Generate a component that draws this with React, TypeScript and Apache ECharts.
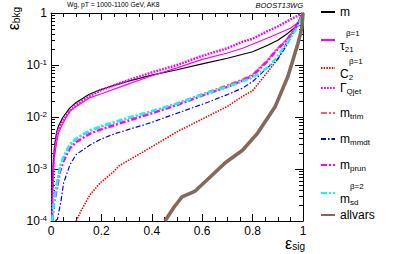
import React, { useEffect, useRef } from "react";
import * as echarts from "echarts";

// ---------- data ----------
const seriesNames = ["m", "tau21", "C2", "Qjet", "mtrim", "mmmdt", "mprun", "msd", "allvars"];

const mX = [0.003, 0.006, 0.009, 0.015, 0.022, 0.03, 0.048, 0.075, 0.1, 0.15, 0.2, 0.3, 0.4, 0.5, 0.6, 0.7, 0.8, 0.86, 0.9, 0.94, 0.97, 0.99, 1.0];
const mY = [1e-4, 5e-4, 1.3e-3, 3e-3, 5e-3, 6.8e-3, 0.010, 0.015, 0.019, 0.027, 0.034, 0.048, 0.064, 0.081, 0.105, 0.135, 0.18, 0.24, 0.30, 0.41, 0.54, 0.75, 1.0];

const tauX = [0.004, 0.008, 0.012, 0.022, 0.03, 0.048, 0.075, 0.1, 0.15, 0.2, 0.3, 0.4, 0.5, 0.6, 0.7, 0.76, 0.86, 0.95, 0.98, 1.0];
const tauY = [1e-4, 6e-4, 1.5e-3, 3.2e-3, 5e-3, 7.7e-3, 0.013, 0.016, 0.023, 0.028, 0.042, 0.062, 0.088, 0.128, 0.17, 0.21, 0.33, 0.51, 0.65, 1.0];

const c2X = [0.1, 0.12, 0.155, 0.195, 0.25, 0.27, 0.3, 0.39, 0.5, 0.62, 0.7, 0.76, 0.8, 0.86, 0.9, 0.94, 0.97, 1.0];
const c2Y = [1e-4, 1.6e-4, 3.2e-4, 5.4e-4, 9e-4, 1.15e-3, 1.4e-3, 2.5e-3, 5.2e-3, 0.0102, 0.016, 0.025, 0.032, 0.074, 0.13, 0.30, 0.55, 1.0];

const qjetX = [0.004, 0.008, 0.012, 0.022, 0.03, 0.05, 0.075, 0.1, 0.15, 0.2, 0.3, 0.4, 0.5, 0.6, 0.7, 0.76, 0.8, 0.86, 0.9, 0.95, 1.0];
const qjetY = [1e-4, 8e-4, 2e-3, 4.2e-3, 5.8e-3, 9e-3, 0.013, 0.017, 0.025, 0.033, 0.05, 0.072, 0.10, 0.15, 0.21, 0.28, 0.32, 0.45, 0.55, 0.75, 1.0];

const groomX = [0.005, 0.012, 0.026, 0.036, 0.049, 0.075, 0.1, 0.155, 0.2, 0.3, 0.4, 0.5, 0.62, 0.7, 0.76, 0.8, 0.86, 0.89, 0.94, 0.98, 1.0];
const trimY = [1e-4, 2.8e-4, 6.5e-4, 1.1e-3, 1.7e-3, 2.9e-3, 3.8e-3, 5.4e-3, 6.5e-3, 9.2e-3, 0.0128, 0.0185, 0.030, 0.041, 0.053, 0.066, 0.125, 0.19, 0.33, 0.62, 1.0];
const prunY = [1e-4, 2.2e-4, 5e-4, 9e-4, 1.4e-3, 2.5e-3, 3.3e-3, 4.8e-3, 5.8e-3, 8.3e-3, 0.0118, 0.017, 0.028, 0.038, 0.05, 0.062, 0.12, 0.18, 0.32, 0.6, 1.0];
const sdY = [1e-4, 2.5e-4, 6e-4, 1.1e-3, 1.7e-3, 3e-3, 3.9e-3, 5.6e-3, 6.7e-3, 9.5e-3, 0.013, 0.018, 0.029, 0.038, 0.048, 0.058, 0.09, 0.13, 0.28, 0.55, 1.0];

const mmdtX = [0.018, 0.026, 0.04, 0.05, 0.075, 0.1, 0.155, 0.2, 0.26, 0.3, 0.39, 0.5, 0.62, 0.7, 0.76, 0.8, 0.86, 0.9, 0.94, 0.97, 1.0];
const mmdtY = [1e-4, 1.1e-4, 2.5e-4, 5.4e-4, 1.2e-3, 1.9e-3, 2.9e-3, 3.8e-3, 4.9e-3, 5.6e-3, 7.6e-3, 0.0118, 0.019, 0.027, 0.036, 0.048, 0.09, 0.13, 0.26, 0.5, 1.0];

const allX = [0.452, 0.49, 0.52, 0.57, 0.62, 0.69, 0.76, 0.82, 0.89, 0.94, 0.98, 0.995, 1.0];
const allY = [1e-4, 1.9e-4, 2.9e-4, 3.7e-4, 6.2e-4, 1.3e-3, 2.3e-3, 4.9e-3, 0.016, 0.06, 0.26, 0.5, 1.0];

const xTicks = [0, 0.2, 0.4, 0.6, 0.8, 1];
const yMinorTicks = [-4, -3, -2, -1].flatMap((e) => [2, 3, 4, 5, 6, 7, 8, 9].map((k) => k * Math.pow(10, e)));

const FONT = "Liberation Sans, Arial, Helvetica, sans-serif";

const zip = (xs: number[], ys: number[]) => xs.map((x, i) => [x, ys[i]]);

const legendFormat: Record<string, string> = {
  m: "{b|m}",
  tau21: "{spT|}{sup|β=1}\n{b|τ}{sub|21}",
  C2: "{spC|}{sup|β=1}\n{b|C}{sub|2}",
  Qjet: "{b|Γ}{sub|Qjet}",
  mtrim: "{b|m}{sub|trim}",
  mmmdt: "{b|m}{sub|mmdt}",
  mprun: "{b|m}{sub|prun}",
  msd: "{spM|}{sup|β=2}\n{b|m}{sub|sd}",
  allvars: "{b|allvars}",
};
const legendTops = [6, 27, 55, 82, 107, 133, 159, 180, 209];

export default function App() {
  const ref = useRef<HTMLDivElement>(null);
  useEffect(() => {
    if (!ref.current) return;
    const chart = echarts.init(ref.current, undefined, { renderer: "svg" });

    const lineSeries = (name: string, data: number[][], color: string, width: number, type: any) => ({
      name,
      type: "line",
      data,
      symbol: "none",
      smooth: false,
      clip: true,
      xAxisIndex: 0,
      yAxisIndex: 0,
      lineStyle: { color, width, type },
      itemStyle: { color },
      emphasis: { disabled: true },
    });

    const series: any[] = [
      lineSeries("m", zip(mX, mY), "#000000", 1.2, "solid"),
      lineSeries("tau21", zip(tauX, tauY), "#ff00ff", 1.2, "solid"),
      lineSeries("C2", zip(c2X, c2Y), "#ff0000", 1.6, [1.5, 1.2]),
      lineSeries("Qjet", zip(qjetX, qjetY), "#ff00ff", 2.4, [1.8, 1.2]),
      lineSeries("mtrim", zip(groomX, trimY), "#ff5c5c", 1.8, [6, 2, 2, 2]),
      lineSeries("mmmdt", zip(mmdtX, mmdtY), "#0000ff", 1.2, [5, 2, 1.5, 2]),
      lineSeries("mprun", zip(groomX, prunY), "#ff00ff", 2.5, [6, 2, 2, 2]),
      lineSeries("msd", zip(groomX, sdY), "#00ffff", 2.5, [6, 2, 2, 2]),
      lineSeries("allvars", zip(allX, allY), "#86685a", 3.6, "solid"),
      {
        name: "yminor",
        type: "custom",
        silent: true,
        xAxisIndex: 0,
        yAxisIndex: 0,
        data: yMinorTicks.map((v) => [0, v]),
        encode: { x: 0, y: 1 },
        renderItem: (_p: any, api: any) => {
          const v = api.value(1);
          const pl = api.coord([0, v]);
          const pr = api.coord([1, v]);
          const y = Math.round(pl[1]) + 0.5;
          return {
            type: "group",
            children: [
              { type: "line", shape: { x1: pl[0], y1: y, x2: pl[0] + 4, y2: y }, style: { stroke: "#000", lineWidth: 1 } },
              { type: "line", shape: { x1: pr[0], y1: y, x2: pr[0] - 4, y2: y }, style: { stroke: "#000", lineWidth: 1 } },
            ],
          };
        },
      },
    ];

    const legendRich = {
      b: { fontFamily: FONT, fontSize: 12, lineHeight: 14, color: "#000" },
      sub: { fontFamily: FONT, fontSize: 8, lineHeight: 8, verticalAlign: "bottom", color: "#000" },
      sup: { fontFamily: FONT, fontSize: 8, lineHeight: 9, color: "#000" },
      spT: { width: 6 },
      spC: { width: 9 },
      spM: { width: 10 },
    };

    const legends = seriesNames.map((name, i) => ({
      show: true,
      data: [name],
      orient: "vertical",
      left: 320,
      top: legendTops[i],
      itemWidth: 14,
      itemHeight: 14,
      itemGap: 0,
      padding: 0,
      selectedMode: false,
      itemStyle: { opacity: 0 },
      formatter: (n: string) => legendFormat[n],
      textStyle: { rich: legendRich, fontFamily: FONT, fontSize: 12, color: "#000" },
    }));

    const supRich = {
      n: { fontFamily: FONT, fontSize: 12, lineHeight: 13, color: "#000" },
      s: { fontFamily: FONT, fontSize: 8, lineHeight: 8, verticalAlign: "top", color: "#000" },
    };

    const option: any = {
      animation: false,
      backgroundColor: "#ffffff",
      grid: { left: 51, right: 96, top: 13, bottom: 33, containLabel: false },
      legend: legends,
      xAxis: [
        {
          type: "value",
          min: 0,
          max: 1,
          interval: 0.2,
          position: "bottom",
          axisLine: { show: true, onZero: false, lineStyle: { color: "#000", width: 1 } },
          axisTick: { show: true, inside: true, length: 7, lineStyle: { color: "#000" } },
          minorTick: { show: true, splitNumber: 4, length: 4, lineStyle: { color: "#000" } },
          splitLine: { show: false },
          axisLabel: {
            show: true,
            margin: 4,
            fontFamily: FONT,
            fontSize: 12,
            color: "#000",
            formatter: (v: number) => (xTicks.includes(Math.round(v * 10) / 10) ? String(Math.round(v * 10) / 10) : ""),
          },
        },
        {
          type: "value",
          min: 0,
          max: 1,
          interval: 0.2,
          position: "top",
          axisLine: { show: true, onZero: false, lineStyle: { color: "#000", width: 1 } },
          axisTick: { show: true, inside: true, length: 7, lineStyle: { color: "#000" } },
          minorTick: { show: true, splitNumber: 4, length: 4, lineStyle: { color: "#000" } },
          splitLine: { show: false },
          axisLabel: { show: false },
        },
      ],
      yAxis: [
        {
          type: "log",
          logBase: 10,
          min: 1e-4,
          max: 1,
          position: "left",
          axisLine: { show: true, onZero: false, lineStyle: { color: "#000", width: 1 } },
          axisTick: { show: true, inside: true, length: 8, lineStyle: { color: "#000" } },
          splitLine: { show: false },
          axisLabel: {
            show: true,
            margin: 4,
            formatter: (v: number) => {
              const e = Math.round(Math.log10(v));
              return e === 0 ? "{n|1}" : `{n|10}{s|${e}}`;
            },
            rich: supRich,
          },
        },
        {
          type: "log",
          logBase: 10,
          min: 1e-4,
          max: 1,
          position: "right",
          axisLine: { show: true, onZero: false, lineStyle: { color: "#000", width: 1 } },
          axisTick: { show: true, inside: true, length: 8, lineStyle: { color: "#000" } },
          splitLine: { show: false },
          axisLabel: { show: false },
        },
      ],
      graphic: [
        {
          type: "text",
          left: 67,
          top: 1,
          style: { text: "Wg, pT = 1000-1100 GeV, AK8", fontFamily: FONT, fontSize: 6.8, fill: "#000" },
        },
        {
          type: "text",
          right: 96,
          top: 1,
          style: { text: "BOOST13WG", fontFamily: FONT, fontStyle: "italic", fontSize: 7.5, fill: "#000" },
        },
        {
          type: "text",
          x: 13,
          y: 7,
          rotation: Math.PI / 2,
          style: {
            text: "{e|ε}{s|bkg}",
            align: "right",
            verticalAlign: "middle",
            rich: {
              e: { fontFamily: FONT, fontSize: 16, lineHeight: 16, fill: "#000" },
              s: { fontFamily: FONT, fontSize: 10, lineHeight: 10, verticalAlign: "bottom", fill: "#000" },
            },
          },
        },
        {
          type: "text",
          x: 305,
          y: 243,
          style: {
            text: "{e|ε}{s|sig}",
            align: "right",
            verticalAlign: "middle",
            rich: {
              e: { fontFamily: FONT, fontSize: 16, lineHeight: 16, fill: "#000" },
              s: { fontFamily: FONT, fontSize: 10, lineHeight: 10, verticalAlign: "bottom", fill: "#000" },
            },
          },
        },
      ],
      series,
    };
    chart.setOption(option);
    return () => chart.dispose();
  }, []);

  return (
    <div
      ref={ref}
      style={{ position: "fixed", left: 0, top: 0, width: 399, height: 254, background: "#fff" }}
    />
  );
}
